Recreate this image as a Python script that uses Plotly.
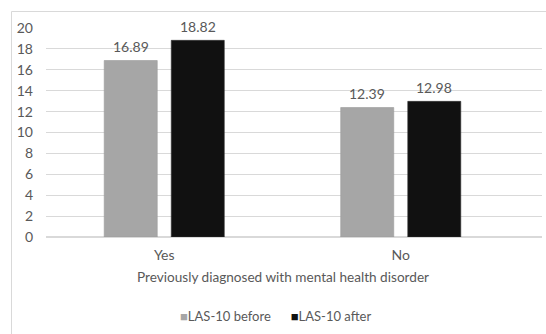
import plotly.graph_objects as go

# Data
categories = ["Yes", "No"]
las_before = [16.89, 12.39]
las_after = [18.82, 12.98]
series_names = ["LAS-10 before", "LAS-10 after"]
series_colors = ["#a6a6a6", "#111111"]
y_ticks = list(range(0, 21, 2))

W, H = 546, 334
L, R, T, B = 46, 4, 28, 97
FONT = "Lato, 'Open Sans', sans-serif"
TXT = "#595959"
BAR_OFFSET = 33.5  # px from category centre to each bar centre

fig = go.Figure()
for name, vals, col, edge in zip(series_names, [las_before, las_after],
                                 series_colors, ["#9a9a9a", "#333333"]):
    fig.add_trace(go.Bar(
        x=categories, y=vals, name=name,
        marker=dict(color=col, line=dict(color=edge, width=0.6)),
    ))

# value labels above each bar
for vals, shift in [(las_before, -BAR_OFFSET), (las_after, BAR_OFFSET)]:
    for cat, v in zip(categories, vals):
        fig.add_annotation(x=cat, y=v, text=f"{v:.2f}", showarrow=False,
                           xshift=shift, yshift=14, yanchor="middle",
                           font=dict(size=14, color=TXT, family=FONT))

plot_w = W - L - R
plot_h = H - T - B

def px_x(p):
    return (p - L) / plot_w

def px_y(p):
    return (H - B - p) / plot_h

# chart frame (left and top edges)
fig.add_shape(type="line", xref="paper", yref="paper",
              x0=px_x(11.5), x1=px_x(11.5), y0=px_y(11.5), y1=px_y(340),
              line=dict(color="#d9d9d9", width=1))
fig.add_shape(type="line", xref="paper", yref="paper",
              x0=px_x(11.5), x1=px_x(560), y0=px_y(11.5), y1=px_y(11.5),
              line=dict(color="#d9d9d9", width=1))

# axis title centred over the two groups
fig.add_annotation(text="Previously diagnosed with mental health disorder",
                   xref="x", yref="paper", x=0.5, y=px_y(277),
                   showarrow=False, yanchor="middle",
                   font=dict(size=13.6, color=TXT, family=FONT))

# compact legend
legend_text = "&nbsp;&nbsp;&nbsp;&nbsp;&nbsp;&nbsp;".join(
    f"<span style='color:{c}'>■</span>{n}" for n, c in zip(series_names, series_colors))
fig.add_annotation(text=legend_text, xref="paper", yref="paper",
                   x=px_x(275), y=px_y(316), xanchor="center", yanchor="middle",
                   showarrow=False, font=dict(size=13, color=TXT, family=FONT))

fig.update_layout(
    width=W, height=H,
    margin=dict(l=L, r=R, t=T, b=B),
    paper_bgcolor="white", plot_bgcolor="white",
    barmode="group", bargap=0.433, bargroupgap=0.209,
    showlegend=False,
    xaxis=dict(range=[-0.5, -0.5 + plot_w / 236.5], showgrid=False,
               showline=False, zeroline=False,
               tickfont=dict(size=14, color=TXT, family=FONT),
               ticklabelstandoff=8),
    yaxis=dict(range=[0, 20], tickvals=y_ticks, showgrid=True,
               gridcolor="#d9d9d9", gridwidth=1, zeroline=True,
               zerolinecolor="#d9d9d9", showline=False,
               tickfont=dict(size=14, color=TXT, family=FONT),
               ticklabelstandoff=12),
)

fig.write_html("out.html")
